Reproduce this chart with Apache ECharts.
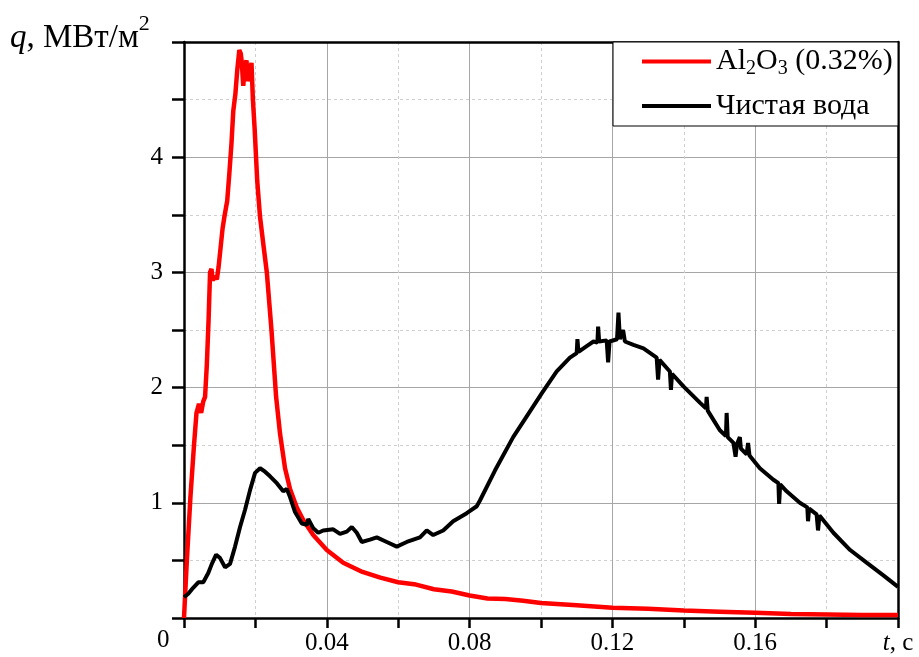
<!DOCTYPE html>
<html><head><meta charset="utf-8">
<script src="https://cdn.jsdelivr.net/npm/echarts@6/dist/echarts.min.js"></script>
<style>html,body{margin:0;padding:0;background:#fff}#c{width:919px;height:657px}</style>
</head><body><div id="c"></div>
<script>
// ---- data (t in s, q in MW/m^2) ----
const seriesNames = ['Al2O3 (0.32%)', 'Чистая вода'];
const alumina = [
 [0,0.0],[0.0008,0.5],[0.0018,1.05],[0.0028,1.5],[0.0035,1.78],[0.0042,1.86],[0.0048,1.78],
 [0.0054,1.88],[0.0059,1.92],[0.0064,2.2],[0.0069,2.6],[0.0073,3.0],[0.0077,3.03],[0.008,2.93],
 [0.0086,2.97],[0.0092,2.94],[0.0097,3.05],[0.0102,3.2],[0.0108,3.38],[0.0114,3.5],[0.0121,3.62],
 [0.0127,3.86],[0.0133,4.12],[0.0138,4.4],[0.0144,4.55],[0.0149,4.75],[0.0155,4.93],[0.0159,4.9],
 [0.0162,4.82],[0.0166,4.62],[0.017,4.78],[0.0175,4.84],[0.0179,4.66],[0.0184,4.72],[0.0189,4.82],
 [0.0193,4.5],[0.0198,4.24],[0.0205,3.8],[0.0213,3.48],[0.0222,3.25],[0.0232,3.0],[0.0245,2.5],
 [0.0258,1.92],[0.0269,1.6],[0.0283,1.3],[0.0297,1.12],[0.0316,0.96],[0.0334,0.85],[0.0362,0.72],
 [0.04,0.59],[0.0446,0.48],[0.05,0.4],[0.055,0.35],[0.06,0.31],[0.065,0.29],[0.07,0.25],
 [0.075,0.23],[0.08,0.195],[0.085,0.17],[0.09,0.165],[0.095,0.15],[0.1,0.13],[0.11,0.11],
 [0.12,0.09],[0.13,0.08],[0.14,0.065],[0.15,0.055],[0.16,0.045],[0.17,0.035],[0.18,0.03],
 [0.19,0.025],[0.2,0.025]
];
const water = [
 [0,0.18],[0.0012,0.21],[0.0025,0.26],[0.004,0.31],[0.0054,0.31],[0.0068,0.39],[0.0078,0.47],
 [0.009,0.55],[0.0101,0.52],[0.0115,0.44],[0.0129,0.47],[0.0143,0.62],[0.0157,0.79],[0.0171,0.94],
 [0.0185,1.11],[0.0199,1.26],[0.0213,1.3],[0.0227,1.27],[0.0241,1.23],[0.026,1.17],[0.0278,1.1],
 [0.0288,1.12],[0.0297,1.05],[0.0311,0.92],[0.033,0.82],[0.0344,0.81],[0.0348,0.86],[0.0362,0.78],
 [0.0376,0.74],[0.039,0.76],[0.0418,0.77],[0.0437,0.73],[0.0456,0.75],[0.047,0.79],[0.0484,0.74],
 [0.0498,0.66],[0.0521,0.68],[0.054,0.7],[0.0568,0.66],[0.0596,0.62],[0.0624,0.66],[0.0661,0.7],
 [0.068,0.76],[0.0698,0.72],[0.0726,0.76],[0.0754,0.84],[0.0792,0.91],[0.082,0.97],[0.0829,1.02],
 [0.0871,1.28],[0.0922,1.57],[0.096,1.75],[0.1002,1.95],[0.1044,2.14],[0.1081,2.26],[0.11,2.3],
 [0.1102,2.42],[0.1105,2.31],[0.1128,2.36],[0.1147,2.4],[0.1158,2.39],[0.116,2.53],[0.1163,2.4],
 [0.1184,2.41],[0.1188,2.22],[0.1192,2.4],[0.1213,2.42],[0.1217,2.65],[0.1221,2.42],[0.123,2.5],
 [0.1235,2.4],[0.1259,2.37],[0.1287,2.34],[0.1324,2.26],[0.1328,2.07],[0.1332,2.24],[0.1361,2.14],
 [0.1364,1.98],[0.1367,2.12],[0.1399,2.01],[0.1445,1.87],[0.1462,1.82],[0.1464,1.92],[0.1467,1.8],
 [0.1483,1.72],[0.1501,1.63],[0.1518,1.58],[0.152,1.78],[0.1523,1.57],[0.1539,1.52],[0.1545,1.4],
 [0.1549,1.51],[0.1557,1.57],[0.156,1.47],[0.1576,1.42],[0.158,1.52],[0.1584,1.41],[0.1613,1.3],
 [0.1651,1.2],[0.1665,1.17],[0.1667,0.99],[0.167,1.16],[0.1688,1.1],[0.1725,1.0],[0.1746,0.96],
 [0.1748,0.84],[0.1751,0.95],[0.1772,0.9],[0.1776,0.76],[0.178,0.89],[0.1819,0.74],[0.1866,0.59],
 [0.1912,0.48],[0.1959,0.37],[0.2,0.27]
];
const xTickLabels = ['0.04','0.08','0.12','0.16'];
const yTickLabels = ['1','2','3','4'];

// ---- chart ----
const FONT = '"Liberation Serif","Times New Roman",serif';
const chart = echarts.init(document.getElementById('c'), null, {renderer:'canvas'});
const black = '#000';
const majorGrid = {show:true, lineStyle:{color:'#a6a6a6', width:1, type:'solid'}};
const minorGrid = {show:true, lineStyle:{color:'#cfcfcf', width:1, type:[3,3]}};
const LBL = 25;

chart.setOption({
  animation:false,
  backgroundColor:'#fff',
  grid:{left:184, right:21, top:42, bottom:39, containLabel:false},
  xAxis:[{
    type:'value', min:0, max:0.2, interval:0.04, position:'bottom',
    axisLine:{show:true, onZero:false, lineStyle:{color:black, width:2.5}},
    axisTick:{show:true, inside:false, length:10, lineStyle:{color:black, width:2.5}},
    minorTick:{show:true, splitNumber:2, length:10, lineStyle:{color:black, width:2.5}},
    splitLine:majorGrid, minorSplitLine:minorGrid,
    axisLabel:{
      margin:13, color:black, fontFamily:FONT, fontSize:LBL,
      formatter:function(v){
        if (Math.abs(v-0.2)<1e-9) return '{i|t}{n|, с}';
        const s = String(+v.toFixed(2));
        return xTickLabels.indexOf(s)>=0 ? s : '';
      },
      rich:{i:{fontStyle:'italic', fontFamily:FONT, fontSize:LBL, color:black},
            n:{fontFamily:FONT, fontSize:LBL, color:black}}
    }
  },{
    type:'value', min:0, max:0.2, position:'top',
    axisLine:{show:true, onZero:false, lineStyle:{color:black, width:2.5}},
    axisTick:{show:false}, axisLabel:{show:false}, splitLine:{show:false}
  }],
  yAxis:[{
    type:'value', min:0, max:5, interval:1, position:'left',
    axisLine:{show:true, onZero:false, lineStyle:{color:black, width:2.5}},
    axisTick:{show:true, inside:false, length:12, lineStyle:{color:black, width:2.5}},
    minorTick:{show:true, splitNumber:2, length:12, lineStyle:{color:black, width:2.5}},
    splitLine:majorGrid, minorSplitLine:minorGrid,
    axisLabel:{
      margin:21, color:black, fontFamily:FONT, fontSize:LBL,
      formatter:function(v){ const s=String(Math.round(v)); return yTickLabels.indexOf(s)>=0 ? s : ''; }
    }
  },{
    type:'value', min:0, max:5, position:'right',
    axisLine:{show:true, onZero:false, lineStyle:{color:black, width:2.5}},
    axisTick:{show:false}, axisLabel:{show:false}, splitLine:{show:false}
  }],
  legend:{
    orient:'vertical', left:637, top:41, icon:'rect', itemWidth:69, itemHeight:4, itemGap:12, z:20,
    data:seriesNames,
    textStyle:{fontFamily:FONT, fontSize:30, color:black, lineHeight:31,
      rich:{n:{fontFamily:FONT, fontSize:30, color:black},
            s:{fontFamily:FONT, fontSize:20, color:black, padding:[14,0,0,0]}}},
    formatter:function(name){
      if (name===seriesNames[0]) return '{n|Al}{s|2}{n|O}{s|3}{n| (0.32%)}';
      return '{n|'+name+'}';
    }
  },
  graphic:[
    {type:'rect', z:6, shape:{x:613, y:42, width:285, height:84},
     style:{fill:'#fff', stroke:black, lineWidth:1}},
    {type:'text', left:10, top:13, z:100,
     style:{text:'{q|q}{n|, МВт/м}{s|2}', fill:black,
       rich:{q:{fontFamily:FONT, fontStyle:'italic', fontSize:33, color:black},
             n:{fontFamily:FONT, fontSize:33, color:black},
             s:{fontFamily:FONT, fontSize:22, color:black, padding:[0,0,28,0]}}}},
    {type:'text', left:157, top:628, z:100,
     style:{text:'0', fontFamily:FONT, fontSize:LBL, fill:black}}
  ],
  series:[
    {name:seriesNames[0], type:'line', data:alumina, symbol:'none', showSymbol:false,
     lineStyle:{color:'#ff0000', width:4.5}, itemStyle:{color:'#ff0000'}, z:3},
    {name:seriesNames[1], type:'line', data:water, symbol:'none', showSymbol:false,
     lineStyle:{color:black, width:4}, itemStyle:{color:black}, z:4}
  ]
});
</script></body></html>
